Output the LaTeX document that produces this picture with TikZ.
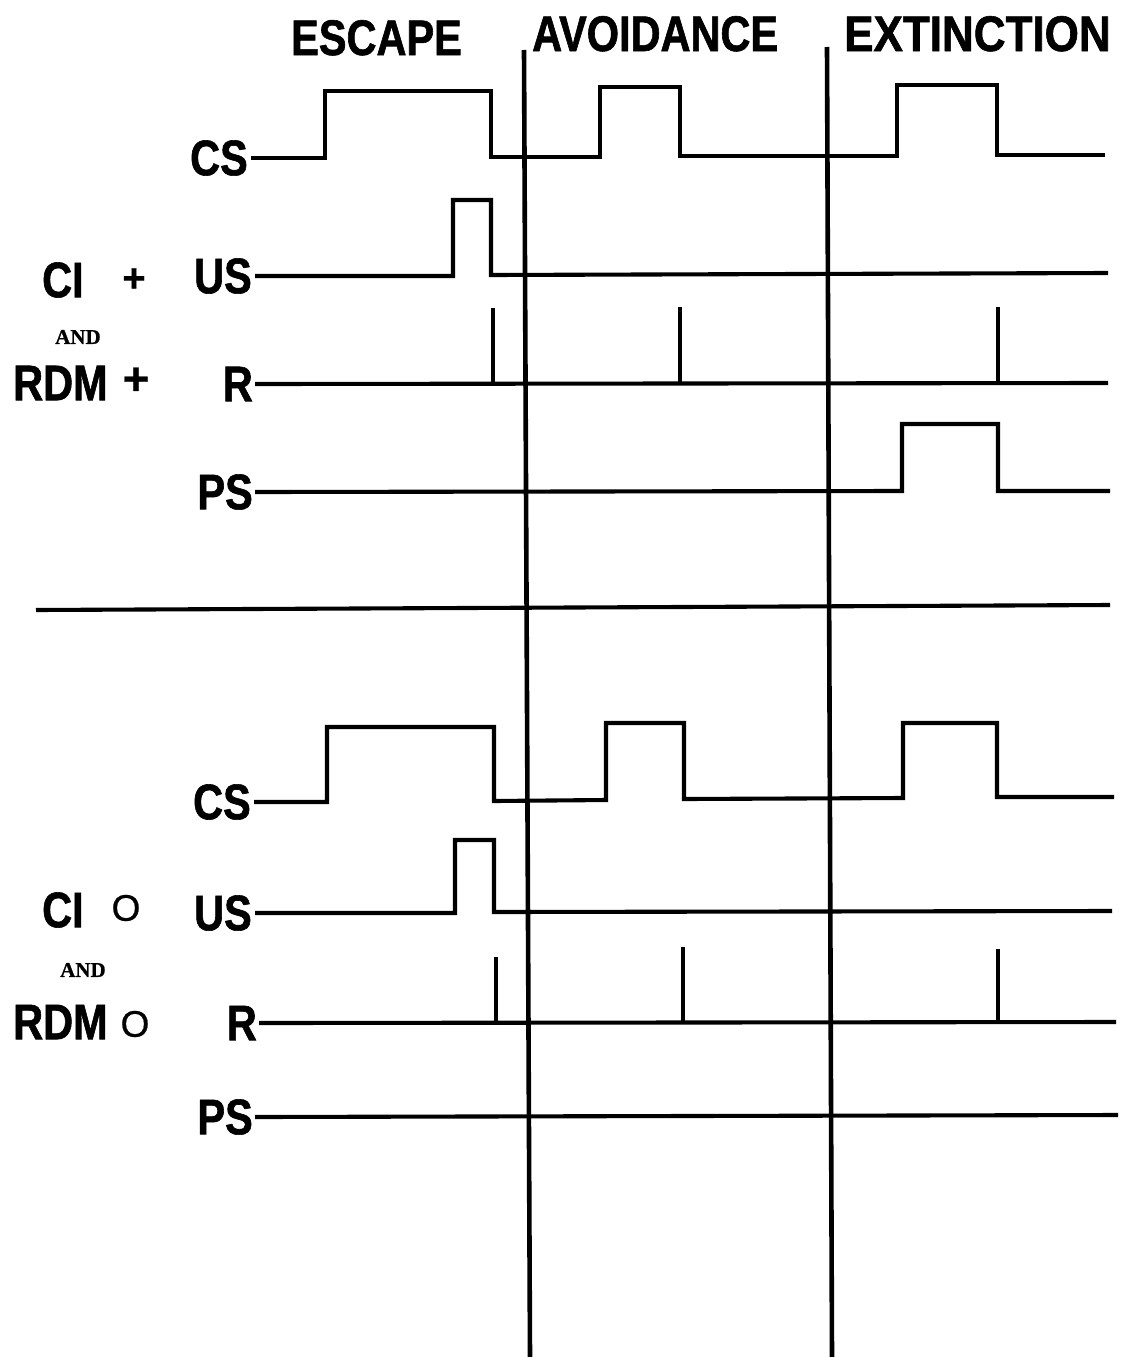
\documentclass[tikz,border=0pt]{standalone}
\usepackage{fontspec}
\newfontfamily\hd{Liberation Sans}[FakeStretch=0.83, FakeBold=1.2]
\newfontfamily\hdx{Liberation Sans}[FakeStretch=0.88, FakeBold=1.2]
\newfontfamily\smf{Liberation Serif}[FakeBold=0.8]
\newfontfamily\rgf{Liberation Sans}[FakeBold=0.6]
\begin{document}
\begin{tikzpicture}[x=1pt,y=-1pt,
  sig/.style={line width=4.1pt, line join=miter},
  divider/.style={line width=4.6pt},
  hdr/.style={font=\hd\bfseries\fontsize{50}{52}\selectfont, inner sep=0pt, anchor=base west},
  lab/.style={font=\hd\bfseries\fontsize{50}{52}\selectfont, inner sep=0pt, anchor=east},
  side/.style={font=\hd\bfseries\fontsize{50}{52}\selectfont, inner sep=0pt, anchor=west},
  plus/.style={font=\rgf\bfseries\fontsize{#1}{#1}\selectfont, inner sep=0pt, anchor=center},
  circ/.style={font=\rgf\fontsize{37}{39}\selectfont, inner sep=0pt, anchor=center},
  andlab/.style={font=\smf\bfseries\fontsize{21}{22}\selectfont, inner sep=0pt, anchor=west}
  ]
\useasboundingbox (0,0) rectangle (1127,1357);
\fill[white] (0,0) rectangle (1127,1357);

% headers
\node[hdr] (escape) at (291,55) {ESCAPE};
\node[hdr] (avoid) at (532,51) {AVOIDANCE};
\node[hdr, font=\hdx\bfseries\fontsize{50}{52}\selectfont] (extinct) at (844,51) {EXTINCTION};

% dividers
\coordinate (d1t) at (524,50);
\coordinate (d1b) at (530,1357);
\coordinate (d2t) at (827,47);
\coordinate (d2b) at (832,1357);
\draw[divider] (d1t) -- (d1b);
\draw[divider] (d2t) -- (d2b);

% separator
\draw[sig] (36,610) -- (1110,605);

% ---------- upper panel ----------
\node[lab] (cs1) at (248,158) {CS};
\node[lab] (us1) at (252,276) {US};
\node[lab] (r1) at (253,384) {R};
\node[lab] (ps1) at (253,492) {PS};

\node[side] (ci1) at (42,280) {CI};
\node[plus=40] (pl1) at (134,280) {+};
\node[andlab] (and1) at (55,337) {AND};
\node[side] (rdm1) at (13,383) {RDM};
\node[plus=46] (pl2) at (136,381) {+};

\draw[sig] ([xshift=3pt]cs1.east) -- (325,158) -- (325,91) -- (491,91) -- (491,157)
  -- (600,157) -- (600,87) -- (680,87) -- (680,156) -- (897,156) -- (897,85)
  -- (997,85) -- (997,155) -- (1105,155);
\draw[sig] ([xshift=3pt]us1.east) -- (453,276) -- (453,200) -- (491,200) -- (491,275) -- (1108,273);
\draw[sig] ([xshift=2pt]r1.east) -- (1108,383);
\draw[sig] (493,308) -- (493,384);
\draw[sig] (680,307) -- (680,384);
\draw[sig] (998,307) -- (998,383);
\draw[sig] ([xshift=2pt]ps1.east) -- (902,491) -- (902,424) -- (998,424) -- (998,491) -- (1110,491);

% ---------- lower panel ----------
\node[lab] (cs2) at (251,802) {CS};
\node[lab] (us2) at (252,913) {US};
\node[lab] (r2) at (257,1023) {R};
\node[lab] (ps2) at (253,1117) {PS};

\node[side] (ci2) at (42,910) {CI};
\node[circ] (o1) at (126,908) {O};
\node[andlab] (and2) at (60,970) {AND};
\node[side] (rdm2) at (13,1022) {RDM};
\node[circ] (o2) at (135,1024) {O};

\draw[sig] ([xshift=3pt]cs2.east) -- (327,802) -- (327,727) -- (494,727) -- (494,801)
  -- (606,800) -- (606,723) -- (684,723) -- (684,799) -- (903,798) -- (903,723)
  -- (997,723) -- (997,797) -- (1114,797);
\draw[sig] ([xshift=3pt]us2.east) -- (455,913) -- (455,840) -- (494,840) -- (494,912) -- (1112,911);
\draw[sig] ([xshift=2pt]r2.east) -- (1116,1022);
\draw[sig] (496,957) -- (496,1023);
\draw[sig] (683,947) -- (683,1023);
\draw[sig] (998,949) -- (998,1022);
\draw[sig] ([xshift=2pt]ps2.east) -- (1118,1115);
\end{tikzpicture}
\end{document}
